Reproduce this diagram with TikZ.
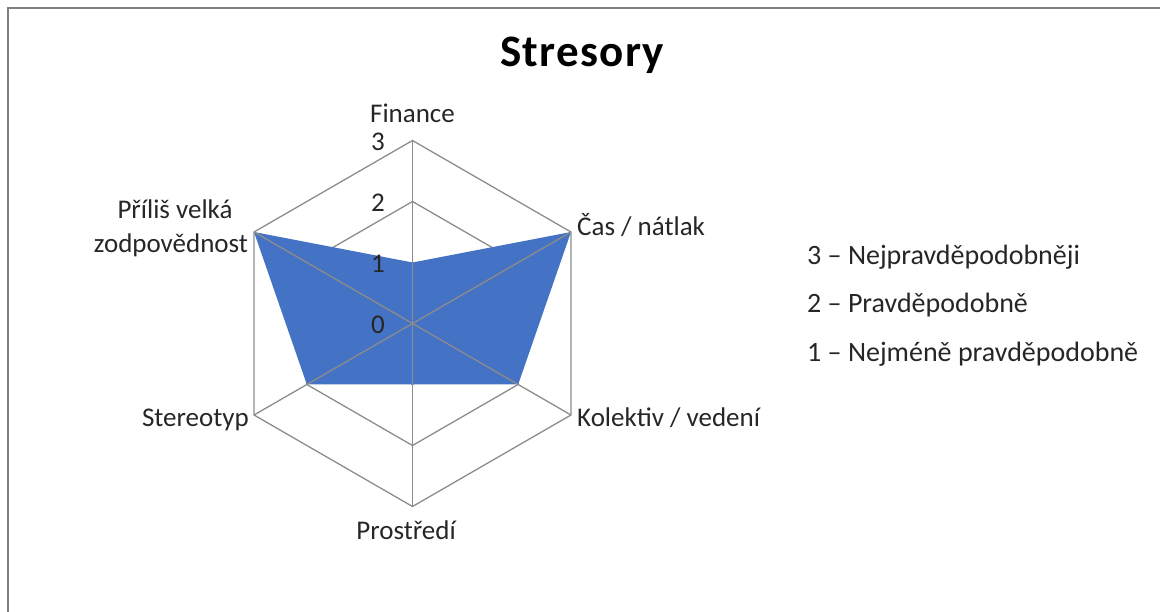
\documentclass[tikz,border=0pt]{standalone}
\usepackage{fontspec}
\setmainfont{Carlito}
\usetikzlibrary{calc}
\definecolor{gridgray}{RGB}{140,140,140}
\definecolor{framegray}{RGB}{128,128,128}
\definecolor{areablue}{RGB}{68,114,196}
\definecolor{labeltext}{RGB}{38,38,38}
\tikzset{
  frame/.style={draw=framegray, line width=2.2pt},
  gridline/.style={draw=gridgray, line width=1.3pt, line join=miter},
  area/.style={fill=areablue},
  cat/.style={inner sep=0pt, text=labeltext, font=\fontsize{27}{32}\selectfont},
  tick/.style={inner sep=0pt, text=labeltext, anchor=base east, font=\fontsize{27}{32}\selectfont},
  legendtext/.style={inner sep=0pt, text=labeltext, anchor=base west, font=\fontsize{28}{33}\selectfont},
  charttitle/.style={inner sep=0pt, anchor=base west,
    font=\fontsize{45}{52}\selectfont\bfseries\addfontfeature{LetterSpace=3}}
}
\begin{document}
\begin{tikzpicture}[x=1pt, y=-1pt]
\useasboundingbox (0,0) rectangle (1160,612);

% outer frame (left and top edges)
\draw[frame] (8,613) -- (8,8) -- (1161,8);

% chart centre and the six axis ends (value 3 = 183pt)
\coordinate (c) at (412.5,323.5);
\coordinate (finance)  at ($(c)+(270:183)$);
\coordinate (cas)      at ($(c)+(330:183)$);
\coordinate (kolektiv) at ($(c)+(30:183)$);
\coordinate (prostredi) at ($(c)+(90:183)$);
\coordinate (stereotyp) at ($(c)+(150:183)$);
\coordinate (prilis)   at ($(c)+(210:183)$);

% hexagonal grid rings for levels 1, 2, 3
\foreach \r in {61,122,183} {
  \draw[gridline] ($(c)+(270:\r)$) -- ($(c)+(330:\r)$) -- ($(c)+(30:\r)$)
    -- ($(c)+(90:\r)$) -- ($(c)+(150:\r)$) -- ($(c)+(210:\r)$) -- cycle;
}

% data area: 1, 3, 2, 1, 2, 3
\fill[area] ($(c)+(270:61)$) -- (cas) -- ($(c)+(30:122)$) -- ($(c)+(90:61)$)
  -- ($(c)+(150:122)$) -- (prilis) -- cycle;

% spokes on top of the area
\foreach \p in {finance,cas,kolektiv,prostredi,stereotyp,prilis}
  \draw[gridline] (c) -- (\p);

% axis scale
\node[tick] (t3) at (385,150.5) {3};
\node[tick] (t2) at (385,211.5) {2};
\node[tick] (t1) at (385,272.5) {1};
\node[tick] (t0) at (385,333.5) {0};

% category labels
\node[cat, anchor=base] (lfinance) at (412.5,123) {Finance};
\node[cat, anchor=base west] (lcas) at (577,236) {Čas / nátlak};
\node[cat, anchor=base west] (lkolektiv) at (577,426) {Kolektiv / vedení};
\node[cat, anchor=base] (lprostredi) at (406,539) {Prostředí};
\node[cat, anchor=base east] (lstereotyp) at (249,426) {Stereotyp};
\node[cat, anchor=base] (lprilis1) at (175,219) {Příliš velká};
\node[cat, anchor=base] (lprilis2) at (171,252.5) {zodpovědnost};

% title
\node[charttitle] (title) at (500,67) {Stresory};

% legend
\node[legendtext] (leg3) at (807,265) {3 – Nejpravděpodobněji};
\node[legendtext] (leg2) at (807,313) {2 – Pravděpodobně};
\node[legendtext] (leg1) at (807,361.5) {1 – Nejméně pravděpodobně};
\end{tikzpicture}
\end{document}
